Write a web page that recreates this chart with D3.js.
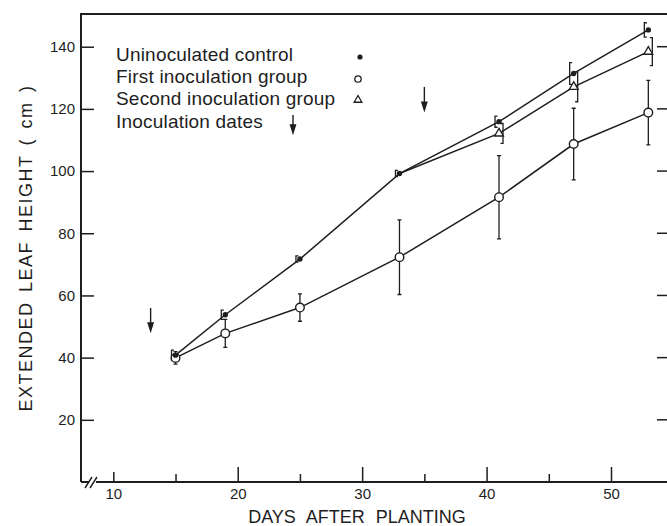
<!DOCTYPE html>
<html>
<head>
<meta charset="utf-8">
<script src="https://cdn.jsdelivr.net/npm/d3@7"></script>
<style>
  html, body { margin: 0; padding: 0; background: #fff; }
  svg { display: block; font-family: "Liberation Sans", Arial, sans-serif; }
</style>
</head>
<body>
<svg width="667" height="526"></svg>
<script>
// datos
const dias = [15, 19, 25, 33, 41, 47, 53];
const controlMedia = [40.8, 53.8, 71.7, 99.2, 115.9, 131.4, 145.4];
const controlError = [1.6, 1.5, 1.0, 1.0, 1.8, 3.5, 2.3];
const primeraMedia = [39.9, 47.8, 56.1, 72.3, 91.6, 108.7, 118.8];
const primeraError = [2.0, 4.5, 4.4, 12.0, 13.4, 11.5, 10.4];
const segundaDias = [41, 47, 53];
const segundaMedia = [112.1, 127.1, 138.4];
const segundaError = [3.2, 4.8, 4.5];
const inoculacionDias = [13, 35];
const inoculacionAltura = [56, 127];   // valor donde empieza la flecha
const ticksY = [20, 40, 60, 80, 100, 120, 140];
const ticksX = [10, 15, 20, 25, 30, 35, 40, 45, 50];
const leyenda = ['Uninoculated control', 'First inoculation group', 'Second inoculation group', 'Inoculation dates'];

const svg = d3.select('svg');
const tinta = '#1e1e1e';

const izq = 81, der = 670, arriba = 14, abajo = 482;

const x = d3.scaleLinear().domain([10, 50]).range([113.3, 611]);
const y = d3.scaleLinear().domain([0, 140]).range([abajo, 46.7]);

// marco
svg.append('path')
    .attr('d', `M${izq},${abajo} L${izq},${arriba} L${der},${arriba} L${der},${abajo}`)
    .attr('fill', 'none').attr('stroke', tinta).attr('stroke-width', 2);
// eje x con corte
svg.append('path')
    .attr('d', `M${izq},${abajo} L89,${abajo} M96,${abajo} L${der},${abajo}`)
    .attr('fill', 'none').attr('stroke', tinta).attr('stroke-width', 2);
svg.append('path')
    .attr('d', `M85,488 L92,477 M90,488 L97,477`)
    .attr('fill', 'none').attr('stroke', tinta).attr('stroke-width', 1.4);

// eje y
const ejeY = svg.append('g')
    .attr('transform', `translate(${izq},0)`)
    .call(d3.axisLeft(y).tickValues(ticksY).tickSizeInner(-13).tickSizeOuter(0).tickPadding(6));
ejeY.select('.domain').remove();
ejeY.selectAll('line').attr('stroke', tinta).attr('stroke-width', 1.5);
ejeY.selectAll('text').attr('fill', tinta).style('font-size', '15px');

// ticks del lado derecho
svg.append('g').selectAll('line').data(ticksY).join('line')
    .attr('x1', der - 13).attr('x2', der)
    .attr('y1', d => y(d)).attr('y2', d => y(d))
    .attr('stroke', tinta).attr('stroke-width', 1.5);

// eje x
const ejeX = svg.append('g')
    .attr('transform', `translate(0,${abajo})`)
    .call(d3.axisBottom(x).tickValues(ticksX).tickSizeInner(-8).tickSizeOuter(0).tickPadding(6)
        .tickFormat(d => d % 10 === 0 ? d : ''));
ejeX.select('.domain').remove();
ejeX.selectAll('line')
    .attr('y2', d => d === 10 ? -10 : (d % 10 === 0 ? -15 : -8))
    .attr('stroke', tinta).attr('stroke-width', 1.5);
ejeX.selectAll('text').attr('fill', tinta).style('font-size', '15px');

// titulos
svg.append('text')
    .attr('x', 357).attr('y', 523)
    .attr('text-anchor', 'middle')
    .attr('fill', tinta)
    .style('font-size', '18px').style('word-spacing', '6px')
    .text('DAYS AFTER PLANTING');
svg.append('text')
    .attr('transform', 'translate(32,248) rotate(-90)')
    .attr('text-anchor', 'middle')
    .attr('fill', tinta)
    .style('font-size', '18px').style('letter-spacing', '1.5px').style('word-spacing', '3px')
    .text('EXTENDED LEAF HEIGHT ( cm )');

// lineas
const linea = d3.line().x(d => x(d[0])).y(d => y(d[1]));
const control = dias.map((d, i) => [d, controlMedia[i], controlError[i]]);
const primera = dias.map((d, i) => [d, primeraMedia[i], primeraError[i]]);
const segunda = segundaDias.map((d, i) => [d, segundaMedia[i], segundaError[i]]);

const trazo = (datos) => svg.append('path')
    .attr('d', linea(datos))
    .attr('fill', 'none').attr('stroke', tinta).attr('stroke-width', 1.5);
trazo(control);
trazo(primera);
trazo([control[3]].concat(segunda));

// barras de error: primera = barra simple, control = "[" , segunda = "]"
svg.append('g').selectAll('path').data(primera).join('path')
    .attr('d', d => {
        const cx = x(d[0]), y0 = y(d[1] - d[2]), y1 = y(d[1] + d[2]);
        return `M${cx},${y0} L${cx},${y1} M${cx - 2},${y0} L${cx + 2},${y0} M${cx - 2},${y1} L${cx + 2},${y1}`;
    })
    .attr('fill', 'none').attr('stroke', tinta).attr('stroke-width', 1.3);

const corchete = (lado) => d => {
    const cx = x(d[0]) + lado * 4, y0 = y(d[1] - d[2]), y1 = y(d[1] + d[2]);
    return `M${cx - lado * 2.5},${y0} L${cx},${y0} L${cx},${y1} L${cx - lado * 2.5},${y1}`;
};
svg.append('g').selectAll('path').data(control).join('path')
    .attr('d', corchete(-1))
    .attr('fill', 'none').attr('stroke', tinta).attr('stroke-width', 1.3);
svg.append('g').selectAll('path').data(segunda).join('path')
    .attr('d', corchete(1))
    .attr('fill', 'none').attr('stroke', tinta).attr('stroke-width', 1.3);

// marcadores
svg.append('g').selectAll('circle').data(primera).join('circle')
    .attr('cx', d => x(d[0])).attr('cy', d => y(d[1])).attr('r', 4.3)
    .attr('fill', '#fff').attr('stroke', tinta).attr('stroke-width', 1.4);
const triangulo = d3.symbol().type(d3.symbolTriangle).size(34);
svg.append('g').selectAll('path').data(segunda).join('path')
    .attr('transform', d => `translate(${x(d[0])},${y(d[1])})`)
    .attr('d', triangulo)
    .attr('fill', '#fff').attr('stroke', tinta).attr('stroke-width', 1.3);
svg.append('g').selectAll('circle').data(control).join('circle')
    .attr('cx', d => x(d[0])).attr('cy', d => y(d[1])).attr('r', 2.7)
    .attr('fill', tinta);

// flechas de inoculacion
const flecha = (fx, fy, largo) => `M${fx},${fy} L${fx},${fy + largo - 7} M${fx - 2.5},${fy + largo - 8} L${fx + 2.5},${fy + largo - 8} L${fx},${fy + largo} Z`;
svg.append('g').selectAll('path').data(inoculacionDias).join('path')
    .attr('d', (d, i) => flecha(x(d), y(inoculacionAltura[i]), 23))
    .attr('fill', tinta).attr('stroke', tinta).attr('stroke-width', 1.4);

// leyenda
const ley = svg.append('g');
const baseLeyenda = [61, 83, 105, 128];
ley.selectAll('text').data(leyenda).join('text')
    .attr('x', 116).attr('y', (d, i) => baseLeyenda[i])
    .attr('fill', tinta)
    .style('font-size', '19px').style('letter-spacing', '0.2px')
    .text(d => d);
ley.append('circle').attr('cx', 360).attr('cy', 57).attr('r', 2.6).attr('fill', tinta);
ley.append('circle').attr('cx', 358).attr('cy', 79).attr('r', 3.2)
    .attr('fill', '#fff').attr('stroke', tinta).attr('stroke-width', 1.3);
ley.append('path').attr('transform', 'translate(358,100)')
    .attr('d', d3.symbol().type(d3.symbolTriangle).size(26))
    .attr('fill', '#fff').attr('stroke', tinta).attr('stroke-width', 1.3);
ley.append('path').attr('d', flecha(293, 115, 18))
    .attr('fill', tinta).attr('stroke', tinta).attr('stroke-width', 1.4);
</script>
</body>
</html>
